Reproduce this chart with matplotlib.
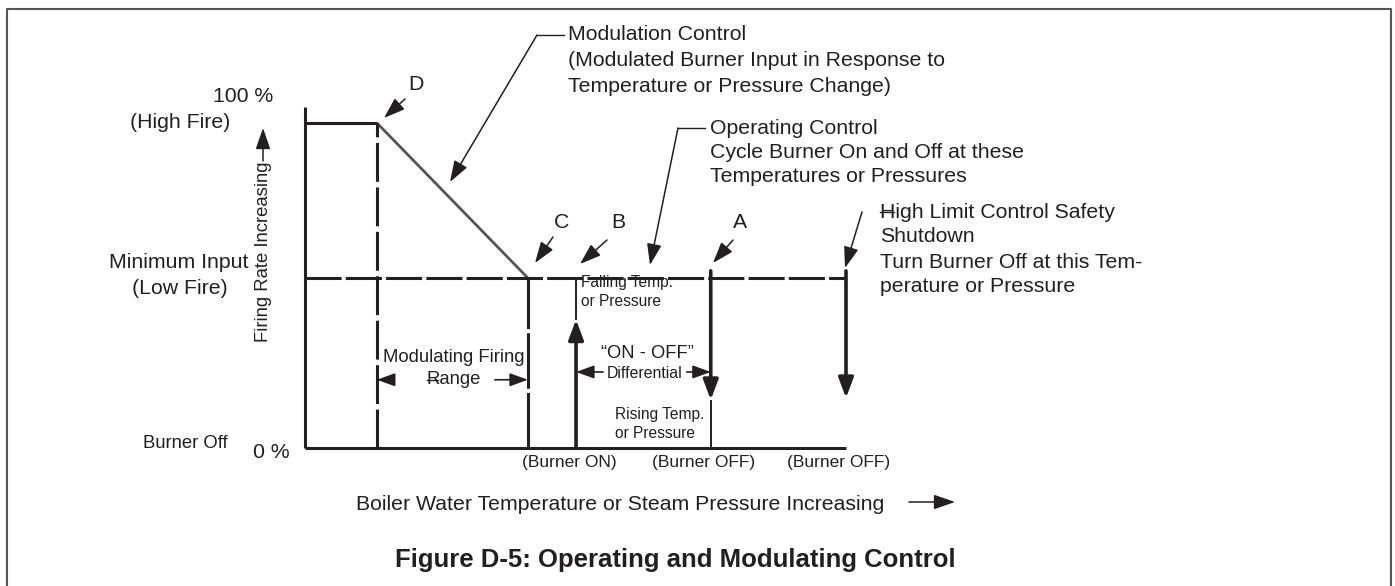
import matplotlib
matplotlib.use('Agg')
import matplotlib.pyplot as plt

plt.rcParams['font.family'] = ['Liberation Sans', 'DejaVu Sans']
plt.rcParams['lines.scale_dashes'] = False

INK = '#231f20'

# x: boiler water temperature / steam pressure (arbitrary 0..100)
# y: firing rate in % of high fire
point_names = ['D', 'C', 'B', 'A', 'High Limit']
point_temps = [13.3, 41.2, 50.1, 75.0, 100.0]
high_fire = 100.0
low_fire = 52.3
burner_off = 0.0
temp_max = 100.0

# where the arrow heads sit on the switch lines
b_arrow_top = 39.5
a_arrow_tip = 14.8
hl_arrow_tip = 15.4
switch_top = 54.5
range_y = 21.0
diff_y = 23.4

x_D, x_C, x_B, x_A, x_HL = point_temps

W, H = 1395, 586
fig = plt.figure(figsize=(W / 100, H / 100), dpi=100)

# overlay in pixel units for text and call-outs
ov = fig.add_axes([0, 0, 1, 1])
ov.set_xlim(0, W)
ov.set_ylim(H, 0)
ov.axis('off')

ax = fig.add_axes([305 / W, (H - 448) / H, 541 / W, 325 / H])
ax.set_xlim(0, temp_max)
ax.set_ylim(0, high_fire)
ax.axis('off')


def px(x, y):
    X, Y = ax.transData.transform((x, y))
    return X, H - Y


def arrow(axes, tip, tail, lw=1.1, hl=1.3, hw=0.45, **kw):
    axes.annotate('', xy=tip, xytext=tail,
                  arrowprops=dict(arrowstyle='-|>,head_length=%s,head_width=%s' % (hl, hw),
                                  lw=lw, color=INK, shrinkA=0, shrinkB=0,
                                  mutation_scale=10), annotation_clip=False, **kw)


def line(xs, ys, **kw):
    kw.setdefault('color', INK)
    kw.setdefault('lw', 2.2)
    ax.plot(xs, ys, clip_on=False, solid_capstyle='butt', **kw)


# frame
ov.plot([7, 7, 1391, 1391], [H, 9, 9, H], color='#555555', lw=1.5)

# axes
line([0, 0], [burner_off, high_fire * 1.05])
line([0, temp_max], [burner_off, burner_off])

# firing curve
line([0, x_D], [high_fire, high_fire])
line([x_D, x_C], [high_fire, low_fire], color='#555555', lw=2.0)
line([0, temp_max], [low_fire, low_fire], dashes=(26, 3))
line([x_D, x_D], [burner_off, high_fire], dashes=(28, 4))
line([x_C, x_C], [burner_off, low_fire], dashes=(40, 3))

# burner on (B), operating off (A), high limit
arrow(ax, (x_B, b_arrow_top), (x_B, burner_off), lw=2.6, hl=1.2, hw=0.45)
line([x_B, x_B], [b_arrow_top, low_fire], lw=1.4)
arrow(ax, (x_A, a_arrow_tip), (x_A, switch_top), lw=2.6, hl=1.2, hw=0.45)
line([x_A, x_A], [burner_off, a_arrow_tip], lw=1.4)
arrow(ax, (x_HL, hl_arrow_tip), (x_HL, switch_top), lw=2.6, hl=1.2, hw=0.45)

# range arrows
arrow(ax, (x_D, range_y), (16, 0), lw=1.2, hl=1.1, hw=0.4, textcoords='offset pixels')
arrow(ax, (x_C, range_y), (-33, 0), lw=1.2, hl=1.1, hw=0.4, textcoords='offset pixels')
arrow(ax, (x_B, diff_y), (27, 0), lw=1.2, hl=1.1, hw=0.4, textcoords='offset pixels')
arrow(ax, (x_A, diff_y), (-24, 0), lw=1.2, hl=1.1, hw=0.4, textcoords='offset pixels')

FS = 15.3


def txt(x, y, s, fs=FS, ha='left', **kw):
    ov.text(x, y, s, fontsize=fs, ha=ha, va='center', color=INK, **kw)


# y-axis labels
txt(273, 97, '100 %', ha='right')
txt(180, 123, '(High Fire)', ha='center')
txt(179, 262, 'Minimum Input', ha='center')
txt(180, 288, '(Low Fire)', ha='center')
txt(185, 443, 'Burner Off', fs=13.3, ha='center')
txt(253, 452, '0 %')
txt(263, 252, 'Firing Rate Increasing', fs=13.3, ha='center', rotation=90)
arrow(ov, (263, 128), (263, 161), lw=1.1)

# x-axis label
txt(356, 504, 'Boiler Water Temperature or Steam Pressure Increasing')
arrow(ov, (955, 502), (909, 502), lw=1.1)

# burner state under the axis
for xv, lab in zip([x_B, x_A, x_HL], ['(Burner ON)', '(Burner OFF)', '(Burner OFF)']):
    X, _ = px(xv, burner_off)
    txt(X - 7, 463, lab, fs=12.5, ha='center')

# inner labels
txt(454, 357, 'Modulating Firing', fs=13.3, ha='center')
txt(454, 380, 'Range', fs=13.3, ha='center')
ov.plot([427, 438], [380, 380], color=INK, lw=1.0)
txt(647, 353, '\u201cON - OFF\u201d', fs=13.2, ha='center')
txt(645, 374, 'Differential', fs=11.4, ha='center')
txt(581, 282, 'Falling Temp.', fs=11.2)
txt(581, 301, 'or Pressure', fs=11.2)
txt(615, 415, 'Rising Temp.', fs=11.2)
txt(615, 434, 'or Pressure', fs=11.2)

# call-outs
mod_lines = ['Modulation Control', '(Modulated Burner Input in Response to',
             'Temperature or Pressure Change)']
for i, s in enumerate(mod_lines):
    txt(568, 35 + i * 25.5, s)
ov.plot([564, 537], [35, 35], color=INK, lw=1.0)
arrow(ov, (450, 182), (537, 35))

op_lines = ['Operating Control', 'Cycle Burner On and Off at these',
            'Temperatures or Pressures']
for i, s in enumerate(op_lines):
    txt(710, 128 + i * 24, s)
ov.plot([705, 678], [128, 128], color=INK, lw=1.0)
arrow(ov, (650, 265), (678, 128))

hl_lines = ['High Limit Control Safety', 'Shutdown', 'Turn Burner Off at this Tem-',
            'perature or Pressure']
for i, s in enumerate(hl_lines):
    txt(880, 212 + i * 25, s)
ov.plot([880, 894], [212, 212], color=INK, lw=1.0)
arrow(ov, (845, 268), (862, 212))

txt(416, 84, 'D', ha='center')
arrow(ov, (384, 118), (405, 99))
txt(562, 223, 'C', ha='center')
arrow(ov, (535, 263), (553, 237))
txt(618, 223, 'B', ha='center')
arrow(ov, (580, 264), (607, 240))
txt(740, 223, 'A', ha='center')
arrow(ov, (713, 263), (733, 240))

ov.text(675, 560, 'Figure D-5: Operating and Modulating Control', fontsize=18.5,
        fontweight='bold', ha='center', va='center', color=INK)

fig.savefig('out.png', dpi=100)
